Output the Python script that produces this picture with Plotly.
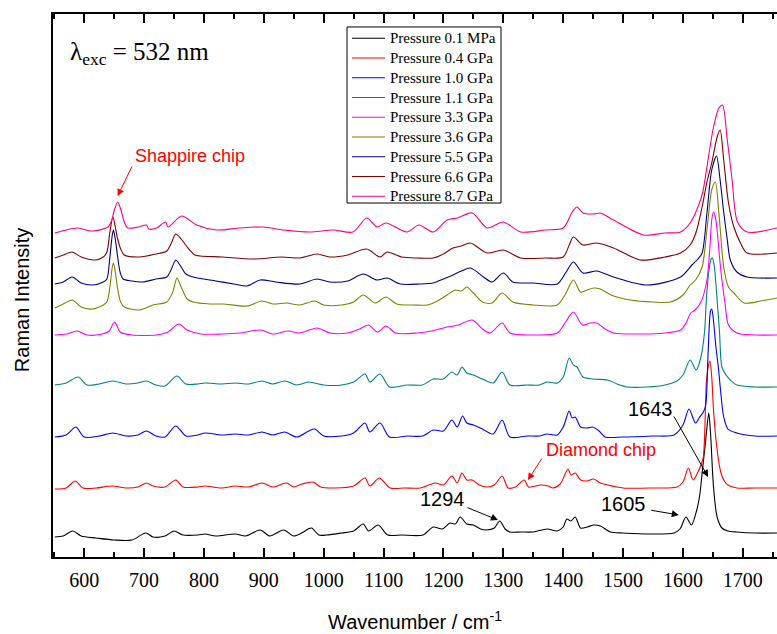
import plotly.graph_objects as go

# Raman spectra of the sample at increasing pressure (stacked, arbitrary units)
wn_01MPa = [551,565,581,595,620,650,680,703,715,735,750,765,790,802,820,852,870,894,910,933,950,966,974,980,992,1005,1030,1050,1066,1075,1091,1107,1130,1166,1183,1198,1211,1220,1228,1239,1250,1262,1272,1285,1294,1303,1311,1330,1350,1373,1390,1400,1406,1413,1420,1429,1440,1451,1462,1479,1500,1550,1585,1595,1605,1614,1623,1628,1632,1638,1643,1646,1651,1657,1665,1675,1690,1720,1757]
int_01MPa = [20,21,26,21,19,17,17,24,20,21,26,22,22,23,21,23,21,27,21,27,21,25,28,29,22,22,24,26,33,26,32,22,22,22,30,28,34,33,40,33,32,28,27,29,36,28,25,25,25,28,26,30,38,36,40,29,30,32,31,25,24,23,24,28,40,32,47,62,84,117,144,124,70,40,29,26,25,24,24]

wn_04GPa = [551,570,585,598,620,646,670,690,704,715,735,753,765,790,802,830,852,875,897,915,938,950,964,982,995,1020,1050,1069,1077,1093,1111,1135,1161,1186,1200,1214,1223,1231,1239,1248,1260,1273,1285,1298,1308,1320,1335,1342,1362,1375,1383,1395,1408,1413,1420,1429,1440,1451,1462,1474,1500,1550,1590,1600,1609,1617,1625,1630,1634,1639,1642,1645,1648,1651,1657,1663,1668,1675,1690,1720,1757]
int_04GPa = [68,69,76,69,69,71,69,70,74,71,70,77,70,70,71,69,71,70,74,70,74,70,73,75,70,69,71,79,71,79,69,69,69,74,72,81,74,84,77,77,72,70,72,81,69,70,77,70,72,71,69,73,88,82,84,77,76,78,74,72,69,69,70,75,89,77,85,92,100,174,190,196,180,147,107,85,77,72,69,69,69]

wn_10GPa = [551,570,586,600,625,648,670,690,704,720,735,753,770,790,802,830,852,875,897,915,935,955,975,985,1000,1030,1050,1069,1077,1094,1110,1140,1165,1183,1200,1214,1223,1232,1239,1250,1265,1283,1298,1311,1340,1360,1373,1390,1400,1410,1415,1420,1429,1440,1449,1460,1470,1500,1550,1585,1600,1610,1621,1628,1634,1638,1642,1646,1648,1651,1655,1659,1663,1668,1675,1690,1720,1757]
int_10GPa = [120,122,130,120,121,124,121,122,126,121,120,131,121,122,124,122,123,122,125,122,125,120,126,128,121,121,124,134,125,134,120,121,121,127,126,137,130,141,134,132,128,123,137,120,121,121,123,122,130,146,139,140,130,129,130,126,120,120,121,122,132,148,134,140,145,152,205,246,248,236,210,190,165,140,128,124,121,121]

wn_11GPa = [551,570,590,605,625,648,670,690,704,720,735,755,770,790,802,830,852,875,897,915,935,955,975,985,1000,1030,1050,1069,1077,1094,1110,1140,1165,1183,1200,1214,1223,1231,1239,1250,1265,1283,1298,1311,1340,1360,1373,1390,1400,1410,1417,1423,1433,1450,1474,1490,1507,1540,1570,1590,1600,1612,1622,1630,1636,1639,1643,1647,1649,1652,1657,1661,1665,1672,1679,1690,1720,1757]
int_11GPa = [172,174,180,172,173,176,173,174,176,172,171,181,173,173,174,173,174,173,176,173,176,172,175,174,172,172,175,183,175,183,170,172,172,178,178,185,182,190,184,182,178,174,185,172,172,172,175,174,180,199,192,190,180,178,177,173,170,170,172,176,182,197,187,200,225,257,285,298,299,292,257,225,190,182,177,172,170,170]

wn_33GPa = [551,570,588,605,630,642,648,651,655,660,680,720,740,758,772,795,830,860,894,915,941,960,989,1010,1040,1060,1075,1090,1104,1120,1156,1180,1206,1225,1248,1265,1278,1298,1311,1350,1390,1405,1417,1432,1445,1456,1470,1484,1530,1570,1596,1605,1613,1620,1630,1640,1645,1648,1651,1654,1657,1661,1665,1670,1676,1690,1720,1757]
int_33GPa = [222,223,226,222,223,226,233,235,231,225,222,222,225,233,227,223,223,224,227,223,226,224,229,224,224,228,232,225,231,224,224,226,230,232,237,228,224,234,224,222,224,236,245,232,234,234,228,224,223,224,227,234,244,247,255,277,310,337,345,340,327,300,277,255,232,224,222,222]

wn_36GPa = [551,565,580,595,614,632,638,643,647,649,652,656,661,667,693,715,738,748,755,762,772,782,810,832,872,897,915,938,960,985,1000,1030,1050,1066,1086,1104,1122,1150,1173,1190,1206,1220,1230,1239,1250,1265,1281,1298,1316,1350,1390,1403,1417,1429,1440,1451,1462,1480,1512,1550,1579,1600,1612,1621,1632,1640,1648,1654,1660,1668,1676,1685,1702,1730,1757]
int_36GPa = [249,253,257,250,248,252,255,270,290,294,285,268,255,250,247,252,255,265,279,270,258,255,253,253,251,256,253,254,252,256,252,252,255,262,254,260,253,252,252,256,262,267,266,270,264,255,254,264,255,252,252,262,277,265,267,269,268,262,257,255,255,262,272,277,290,327,367,375,344,290,270,264,254,256,259]

wn_55GPa = [551,565,580,595,614,632,638,643,647,649,652,656,660,665,680,698,720,738,745,753,760,770,782,820,850,872,894,920,960,989,1010,1040,1066,1089,1106,1128,1160,1183,1200,1216,1230,1245,1267,1281,1300,1316,1350,1390,1405,1417,1433,1456,1484,1540,1596,1615,1625,1632,1640,1648,1656,1662,1668,1674,1679,1690,1707,1757]
int_55GPa = [273,275,280,274,272,275,278,300,322,327,318,300,285,278,276,275,278,280,287,297,292,283,280,276,273,271,277,275,273,278,275,276,283,277,279,273,273,274,278,282,286,289,280,275,284,275,274,273,285,295,284,286,280,272,280,292,298,304,344,387,401,377,345,317,297,285,280,279]

wn_66GPa = [551,565,580,595,618,632,638,643,648,652,656,661,667,693,720,738,745,753,762,772,785,794,830,882,930,960,989,1010,1040,1072,1094,1106,1130,1156,1183,1200,1216,1230,1245,1273,1300,1329,1370,1400,1410,1417,1433,1456,1484,1529,1570,1596,1612,1622,1632,1640,1648,1657,1662,1668,1676,1685,1696,1707,1757]
int_66GPa = [299,302,305,300,297,300,305,325,340,330,318,308,302,300,303,306,313,323,318,310,302,301,300,298,300,299,303,300,302,308,300,305,300,299,299,303,309,311,314,304,307,299,299,300,312,320,312,314,309,297,300,304,312,325,350,375,394,420,427,397,354,330,314,304,304]

wn_87GPa = [551,570,588,614,640,645,651,656,661,667,673,690,704,708,721,736,740,763,788,821,860,899,933,977,1016,1049,1072,1089,1104,1139,1159,1183,1206,1223,1248,1273,1300,1329,1370,1400,1415,1423,1433,1451,1462,1484,1534,1570,1596,1612,1625,1633,1640,1651,1660,1666,1674,1682,1691,1707,1757]
int_87GPa = [324,327,329,326,330,335,348,355,348,335,329,330,332,328,329,335,330,341,332,327,329,330,327,325,327,325,339,330,334,325,332,325,337,339,344,329,335,325,327,329,345,350,344,343,344,337,322,324,325,334,350,365,390,430,449,452,417,377,335,325,329]

labels = ["Pressure 0.1 MPa", "Pressure 0.4 GPa", "Pressure 1.0 GPa",
          "Pressure 1.1 GPa", "Pressure 3.3 GPa", "Pressure 3.6 GPa",
          "Pressure 5.5 GPa", "Pressure 6.6 GPa", "Pressure 8.7 GPa"]
colors = ["#000000", "#FF0000", "#0000FF", "#008080", "#FF00FF",
          "#808000", "#000080", "#800000", "#FF0080"]
series = [(wn_01MPa, int_01MPa), (wn_04GPa, int_04GPa), (wn_10GPa, int_10GPa),
          (wn_11GPa, int_11GPa), (wn_33GPa, int_33GPa), (wn_36GPa, int_36GPa),
          (wn_55GPa, int_55GPa), (wn_66GPa, int_66GPa), (wn_87GPa, int_87GPa)]

fig = go.Figure()
for (wn, inten), name, col in zip(series, labels, colors):
    assert len(wn) == len(inten), name
    fig.add_trace(go.Scatter(
        x=wn, y=inten, mode="lines", name=name, showlegend=False,
        line=dict(color=col, width=1.1, shape="spline", smoothing=0.8),
        hoverinfo="skip"))

serif = "Liberation Serif"
sans = "Liberation Sans"

fig.update_layout(
    width=777, height=634,
    margin=dict(l=53, r=0, t=14, b=77),
    paper_bgcolor="white", plot_bgcolor="white",
    showlegend=False,
    xaxis=dict(
        range=[548, 1757], showgrid=False, zeroline=False,
        showline=True, linecolor="black", linewidth=2, mirror="allticks",
        ticks="inside", ticklen=9, tickwidth=1.5, tickcolor="black",
        tick0=0, dtick=100, ticklabelstandoff=4,
        minor=dict(tick0=0, dtick=50, ticks="inside", ticklen=5,
                   tickwidth=1.5, tickcolor="black", showgrid=False),
        tickfont=dict(family=serif, size=20, color="black"),
    ),
    yaxis=dict(
        range=[0, 543], showgrid=False, zeroline=False,
        showline=True, linecolor="black", linewidth=2,
        showticklabels=False, ticks="",
    ),
)

annotations = [
    # axis titles
    dict(text="Wavenumber / cm<sup>-1</sup>", xref="paper", yref="paper",
         x=0.5, y=-0.117, xanchor="center", yanchor="middle", showarrow=False,
         font=dict(family=sans, size=20, color="black")),
    dict(text="Raman Intensity", xref="paper", yref="paper",
         x=-0.0428, y=0.473, xanchor="center", yanchor="middle",
         showarrow=False, textangle=-90,
         font=dict(family=sans, size=20, color="black")),
    # excitation wavelength
    dict(text="λ<sub>exc</sub> = 532 nm", xref="paper", yref="paper",
         x=0.0207, y=0.927, xanchor="left", yanchor="middle", showarrow=False,
         font=dict(family=serif, size=25, color="black")),
    # labels
    dict(text="Shappire chip", x=777, y=401, showarrow=False,
         font=dict(family=sans, size=18, color="red")),
    dict(text="Diamond chip", x=1463, y=107, showarrow=False,
         font=dict(family=sans, size=18, color="red")),
    dict(text="1294", x=1198, y=58, showarrow=False,
         font=dict(family=sans, size=20, color="black")),
    dict(text="1605", x=1500, y=53, showarrow=False,
         font=dict(family=sans, size=20, color="black")),
    dict(text="1643", x=1545, y=148, showarrow=False,
         font=dict(family=sans, size=20, color="black")),
]

# arrows: (head wavenumber, head intensity, tail dx px, tail dy px, colour)
arrows = [(656, 361, 15, -31, "red"), (1341, 77, 15, -23, "red"),
          (1291, 37, -32, -13, "black"), (1593, 42, -29, -5, "black"),
          (1642, 80, -35, -62, "black")]
for hx, hy, dx, dy, col in arrows:
    annotations.append(dict(
        text="", x=hx, y=hy, ax=dx, ay=dy, showarrow=True,
        arrowhead=2, arrowsize=1.4, arrowwidth=1, arrowcolor=col))

# legend box drawn in paper space
leg_x0, leg_x1 = 0.4061, 0.6188
leg_y0, leg_y1 = 0.6519, 0.9761
leg_top = 0.9553        # centre of first entry
leg_step = 0.03637      # spacing between entries
shapes = [dict(type="rect", xref="paper", yref="paper",
               x0=leg_x0, x1=leg_x1, y0=leg_y0, y1=leg_y1,
               line=dict(color="black", width=1), fillcolor="white",
               layer="above")]
for i, (name, col) in enumerate(zip(labels, colors)):
    yy = leg_top - i * leg_step
    shapes.append(dict(type="line", xref="paper", yref="paper",
                       x0=0.4130, x1=0.4586, y0=yy, y1=yy,
                       line=dict(color=col, width=1.2), layer="above"))
    annotations.append(dict(
        text=name, xref="paper", yref="paper", x=0.4627, y=yy,
        xanchor="left", yanchor="middle", showarrow=False,
        font=dict(family=serif, size=15, color="black")))

fig.update_layout(annotations=annotations, shapes=shapes)

fig.write_html("out.html")
